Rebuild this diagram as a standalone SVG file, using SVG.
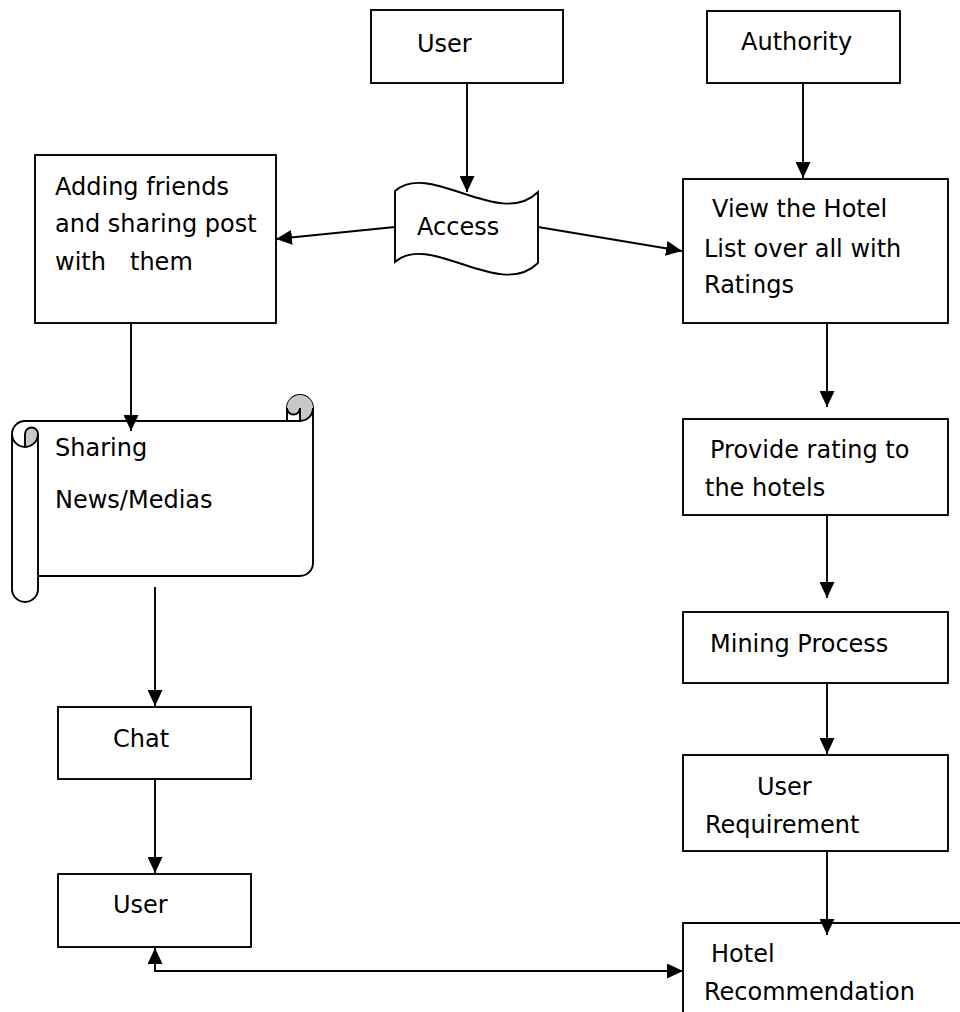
<svg xmlns="http://www.w3.org/2000/svg" width="960" height="1012" viewBox="0 0 960 1012">
<style>
.box{fill:#fff;stroke:#000;stroke-width:1.9}
.ln{fill:none;stroke:#000;stroke-width:1.9}
.t{font-family:"DejaVu Sans",sans-serif;font-size:24px;fill:#000}
.gray{fill:#c8c8c8;stroke:none}
</style>
<defs>
<marker id="ah" markerUnits="userSpaceOnUse" markerWidth="16" markerHeight="15" refX="16" refY="7.5" orient="auto-start-reverse">
<path d="M0,0 L16,7.5 L0,15 Z" fill="#000"/>
</marker>
</defs>
<rect width="960" height="1012" fill="#fff"/>

<g id="user-top"><rect class="box" x="371" y="10" width="192" height="73"/><text class="t" x="417" y="52">User</text></g>
<g id="authority"><rect class="box" x="707" y="11" width="193" height="72"/><text class="t" x="741" y="50">Authority</text></g>
<g id="access"><path class="box" d="M395,191 C430,160 500,230 538,192 L538,263 C500,301 430,231 395,262 Z"/><text class="t" x="417" y="235">Access</text></g>
<g id="adding-friends"><rect class="box" x="35" y="155" width="241" height="168"/>
<text class="t" x="55" y="195">Adding friends</text><text class="t" x="55" y="232">and sharing post</text><text class="t" x="55" y="270">with</text><text class="t" x="130" y="270">them</text></g>
<g id="view-hotel"><rect class="box" x="683" y="179" width="265" height="144"/>
<text class="t" x="712" y="217">View the Hotel</text><text class="t" x="704" y="257">List over all with</text><text class="t" x="704" y="293">Ratings</text></g>
<g id="provide-rating"><rect class="box" x="683" y="419" width="265" height="96"/>
<text class="t" x="710" y="458">Provide rating to</text><text class="t" x="705" y="496">the hotels</text></g>
<g id="mining"><rect class="box" x="683" y="612" width="265" height="71"/><text class="t" x="710" y="652">Mining Process</text></g>
<g id="user-requirement"><rect class="box" x="683" y="755" width="265" height="96"/>
<text class="t" x="757" y="795">User</text><text class="t" x="705" y="833">Requirement</text></g>
<g id="hotel-recommendation"><path class="box" d="M683,1014 L683,923 L962,923"/>
<text class="t" x="711" y="962">Hotel</text><text class="t" x="704" y="1000">Recommendation</text></g>
<g id="sharing-scroll">
<path class="box" d="M12,434 A13,13 0 0 1 25,421 L287,421 L287,408 A13,13 0 0 1 313,408 L313,563 A13,13 0 0 1 300,576 L38,576 L38,589 A13,13 0 0 1 12,589 Z"/>
<path class="gray" d="M25,447 A13,13 0 0 0 38,434 A6.5,6.5 0 0 0 25,434 Z"/>
<path class="gray" d="M300,421 A13,13 0 1 0 287,408 A6.5,6.5 0 0 0 300,408 Z"/>
<path class="ln" d="M287,421 L300,421 A13,13 0 0 0 313,408 M300,421 L300,408 A6.5,6.5 0 0 1 287,408 M25,447 L25,434 A6.5,6.5 0 0 1 38,434 A13,13 0 0 1 12,434 M38,434 L38,576"/>
<text class="t" x="55" y="456">Sharing</text><text class="t" x="55" y="508">News/Medias</text></g>
<g id="chat"><rect class="box" x="58" y="707" width="193" height="72"/><text class="t" x="113" y="747">Chat</text></g>
<g id="user-bottom"><rect class="box" x="58" y="874" width="193" height="73"/><text class="t" x="113" y="913">User</text></g>

<g id="connectors">
<line class="ln" x1="467" y1="83" x2="467" y2="192" marker-end="url(#ah)"/>
<line class="ln" x1="803" y1="83" x2="803" y2="178" marker-end="url(#ah)"/>
<line class="ln" x1="395" y1="227" x2="276" y2="239" marker-end="url(#ah)"/>
<line class="ln" x1="538" y1="227" x2="682" y2="251" marker-end="url(#ah)"/>
<line class="ln" x1="131" y1="323" x2="131" y2="431" marker-end="url(#ah)"/>
<line class="ln" x1="155" y1="587" x2="155" y2="706" marker-end="url(#ah)"/>
<line class="ln" x1="155" y1="779" x2="155" y2="873" marker-end="url(#ah)"/>
<polyline class="ln" points="155,948 155,971 683,971" marker-start="url(#ah)" marker-end="url(#ah)"/>
<line class="ln" x1="827" y1="323" x2="827" y2="407" marker-end="url(#ah)"/>
<line class="ln" x1="827" y1="515" x2="827" y2="598" marker-end="url(#ah)"/>
<line class="ln" x1="827" y1="683" x2="827" y2="754" marker-end="url(#ah)"/>
<line class="ln" x1="827" y1="851" x2="827" y2="935" marker-end="url(#ah)"/>
</g>
</svg>
